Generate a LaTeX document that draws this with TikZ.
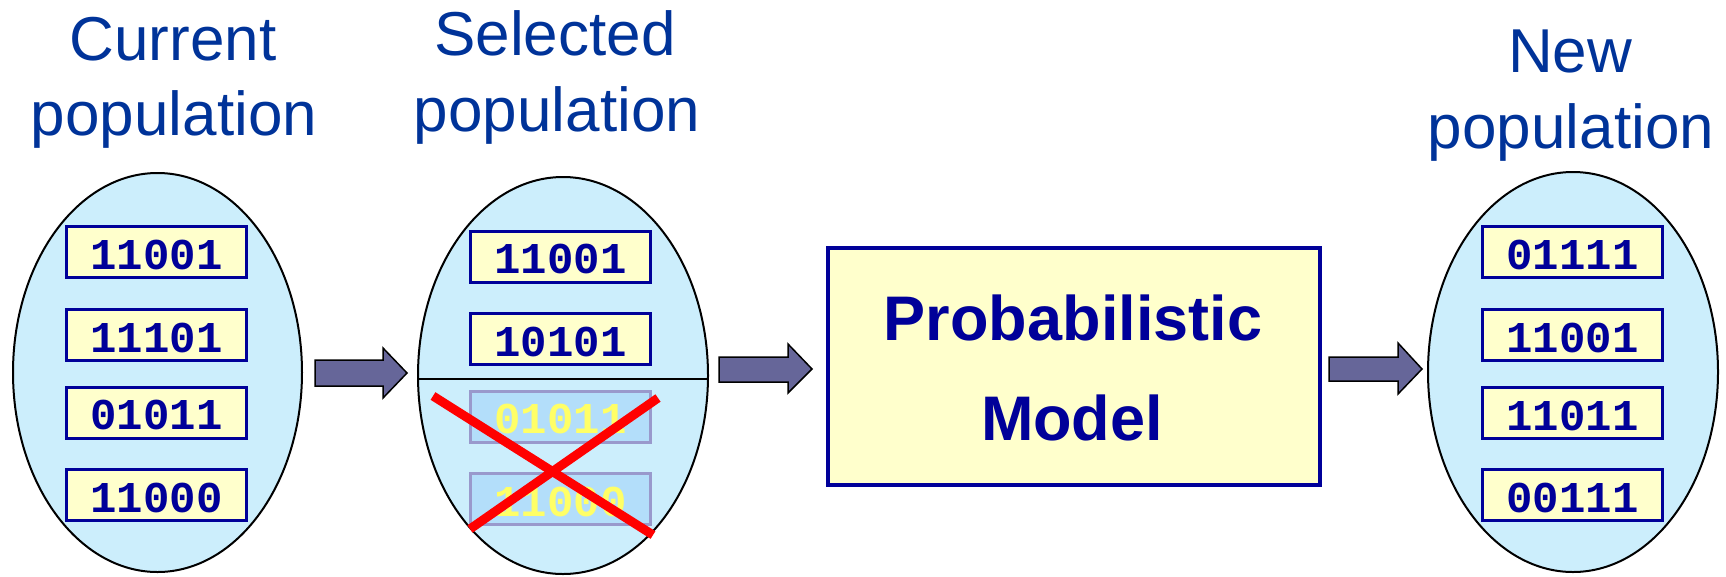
\documentclass[tikz,border=0pt]{standalone}
\usepackage{fontspec}
\setmainfont{Liberation Sans}
\newfontfamily\bitfont{Liberation Mono}
\usetikzlibrary{shapes.geometric}

\definecolor{popfill}{RGB}{204,238,252}
\definecolor{bitfill}{RGB}{255,255,204}
\definecolor{navy}{RGB}{0,0,153}
\definecolor{titleblue}{RGB}{0,51,153}
\definecolor{gonefill}{RGB}{179,222,250}
\definecolor{goneedge}{RGB}{153,153,204}
\definecolor{gonetext}{RGB}{255,255,102}
\definecolor{arrowfill}{RGB}{102,102,153}

\tikzset{
  pop/.style={ellipse, draw=black, line width=2pt, fill=popfill, inner sep=0pt},
  bit/.style={rectangle, draw=navy, line width=3pt, fill=bitfill,
    minimum width=180pt, minimum height=51pt, inner sep=0pt,
    text height=34pt, text depth=0pt, text=navy,
    font=\bitfont\bfseries\fontsize{44}{44}\selectfont},
  gone/.style={bit, draw=goneedge, fill=gonefill, text=gonetext},
  poptitle/.style={anchor=base, inner sep=0pt, text=titleblue,
    font=\fontsize{62}{62}\selectfont},
  modelbox/.style={rectangle, draw=navy, line width=4pt, fill=bitfill,
    minimum width=492pt, minimum height=237pt, inner sep=0pt},
  modeltext/.style={anchor=base, inner sep=0pt, text=navy,
    font=\bfseries\fontsize{63}{63}\selectfont},
  blockarrow/.style={draw=black, line width=1.5pt, fill=arrowfill, line join=miter},
  cross/.style={draw=red, line width=9pt},
}

\begin{document}
\begin{tikzpicture}[x=1pt, y=-1pt]
\useasboundingbox (0,0) rectangle (1726,576);

% titles
\node[poptitle] (curA) at (173,60) {Current};
\node[poptitle] (curB) at (174,135) {population};
\node[poptitle] (selA) at (555,55) {Selected};
\node[poptitle] (selB) at (557,131) {population};
\node[poptitle] (newA) at (1570,72) {New};
\node[poptitle] (newB) at (1571,148) {population};

% current population
\node[pop, minimum width=289pt, minimum height=399pt] (cur) at (157.5,372.5) {};
\node[bit] (c1) at (156.5,252) {11001};
\node[bit] (c2) at (156.5,335) {11101};
\node[bit] (c3) at (156.5,412.5) {01011};
\node[bit] (c4) at (156.5,495) {11000};

% selected population, with the rejected half below the cut
\node[pop, minimum width=290pt, minimum height=397pt] (sel) at (563,375.5) {};
\begin{scope}
  \clip (563,375.5) ellipse [x radius=145pt, y radius=198.5pt];
  \draw[line width=2pt] (400,379) coordinate (cutL) -- (730,379) coordinate (cutR);
\end{scope}
\node[bit] (s1) at (560.5,256.5) {11001};
\node[bit] (s2) at (560.5,339) {10101};
\node[gone] (s3) at (560.5,416.5) {01011};
\node[gone] (s4) at (560.5,499) {11000};
\coordinate (xa1) at (433,396);
\coordinate (xa2) at (653,535);
\coordinate (xb1) at (658,398);
\coordinate (xb2) at (470,529);
\draw[cross] (xa1) -- (xa2);
\draw[cross] (xb1) -- (xb2);

% probabilistic model
\node[modelbox] (model) at (1074,366.5) {};
\node[modeltext] (modelA) at (1073,340) {Probabilistic};
\node[modeltext] (modelB) at (1072,440) {Model};

% new population
\node[pop, minimum width=290pt, minimum height=400pt] (new) at (1573,372) {};
\node[bit] (n1) at (1572.5,252) {01111};
\node[bit] (n2) at (1572.5,335) {11001};
\node[bit] (n3) at (1572.5,413) {11011};
\node[bit] (n4) at (1572.5,495) {00111};

% block arrows between the stages
\draw[blockarrow] (315,360) -- (383,360) -- (383,348) -- (407,373)
  -- (383,398) -- (383,386) -- (315,386) -- cycle;
\draw[blockarrow] (719,357) -- (788,357) -- (788,344) -- (812,369)
  -- (788,393) -- (788,382) -- (719,382) -- cycle;
\draw[blockarrow] (1329,357) -- (1398,357) -- (1398,343) -- (1422,369)
  -- (1398,394) -- (1398,381) -- (1329,381) -- cycle;
\end{tikzpicture}
\end{document}
